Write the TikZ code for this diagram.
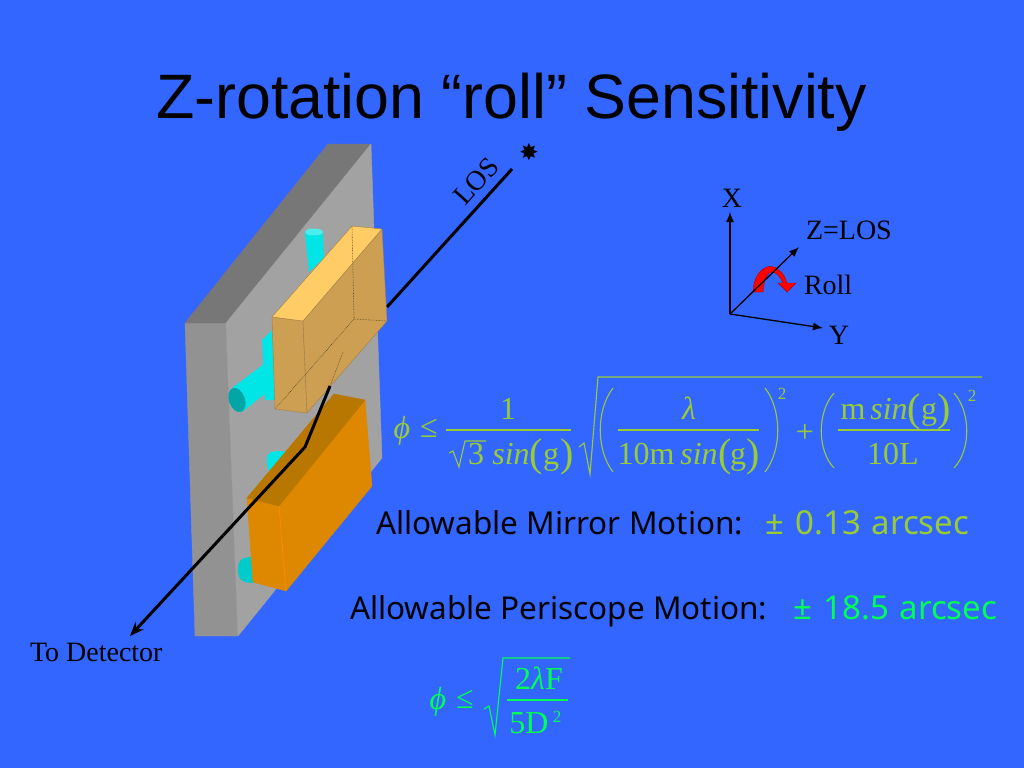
\documentclass[tikz,border=0pt]{standalone}
\usepackage{fontspec}
\setmainfont{Liberation Serif}
\newfontfamily\arialf{Liberation Sans}
\newfontfamily\bodyf{Noto Sans}
\newfontfamily\starf{DejaVu Sans}
\usetikzlibrary{arrows.meta}
\definecolor{bgblue}{HTML}{3366FF}
\definecolor{eqgreen}{HTML}{99CC33}
\definecolor{brightgreen}{HTML}{00FF55}
\definecolor{plateF}{HTML}{929292}
\definecolor{plateT}{HTML}{777777}
\definecolor{plateR}{HTML}{A2A2A2}
\definecolor{lightT}{HTML}{FFCC66}
\definecolor{lightF}{HTML}{CC9F52}
\definecolor{orangeT}{HTML}{B87700}
\definecolor{orangeF}{HTML}{DD8800}
\definecolor{cyanA}{HTML}{00E5E5}
\definecolor{cyanB}{HTML}{00A5A5}
\newcommand{\fs}[1]{\fontsize{#1}{#1}\selectfont}
\tikzset{
 lbl/.style={inner sep=0pt,outer sep=0pt,anchor=base},
 eqa/.style={lbl,text=eqgreen,font=\fs{32}},
 eqb/.style={lbl,text=brightgreen,font=\fs{32}},
 eqp/.style={lbl,text=eqgreen,font=\fs{40}},
 eqline/.style={draw=eqgreen,line width=1.1pt},
 eqlineb/.style={draw=brightgreen,line width=1.1pt},
 axis/.style={draw=black,line width=1.3pt,-{Latex[length=10pt,width=8pt]}},
 tag/.style={lbl,font=\fs{28},text=black},
 body/.style={lbl,anchor=base west,font=\bodyf\fs{31.5}},
 bodyg/.style={lbl,anchor=base west,font=\bodyf\fs{33}},
 face/.style={line width=.4pt,line join=round},
 hidden/.style={draw=black!60!lightF,line width=.6pt,densely dotted},
}
\begin{document}
\begin{tikzpicture}[x=1pt,y=-1pt]
\useasboundingbox (0,0) rectangle (1024,768);
\fill[bgblue] (0,0) rectangle (1024,768);
\node[lbl,font=\arialf\fs{62.7}] (title) at (511.5,118) {Z-rotation “roll” Sensitivity};
% plate
\draw[face,draw=plateF,fill=plateF] (185,323)--(226,323)--(238,636)--(195,636)--cycle;
\draw[face,draw=plateT,fill=plateT] (185,323)--(328,144)--(371,144)--(226,323)--cycle;
\draw[face,draw=plateR,fill=plateR] (226,323)--(371,144)--(382,458)--(238,636)--cycle;
% cylinders
\fill[cyanA] (305,233) -- (309,272) -- (324,258) -- (323,233) -- cycle;
\fill[cyanA!70!white] (314,232) ellipse (9 and 3.5);
\fill[cyanA] (262,340) -- (272,330) -- (276,400) -- (265,400) -- cycle;
\fill[cyanA] (232,388) -- (276,355) -- (276,385) -- (242,412) -- cycle;
\fill[cyanB,rotate around={20:(237,400)}] (237,400) ellipse (8 and 12.5);
\fill[cyanA] (267,458) .. controls (267,452) and (272,451) .. (285,451) -- (285,465) -- (272,473) .. controls (268,472) and (267,468) .. (267,458) -- cycle;
\fill[cyanB!40!cyanA] (238,570) .. controls (238,560) and (242,557) .. (252,557) -- (254,583) .. controls (243,583) and (238,580) .. (238,570) -- cycle;
% LOS line, far segment
\coordinate (losfar) at (512,169);
\coordinate (losin) at (387,307);
\draw[line width=3pt] (losfar) -- (losin);
% top box
\draw[face,draw=lightF!80!black,fill=lightF] (272,317)--(303,321)--(307,413)--(275,409)--cycle;
\draw[face,draw=lightF!80!black,fill=lightF] (303,321)--(382,229)--(387,321)--(307,413)--cycle;
\draw[face,draw=lightF!80!black,fill=lightT] (272,317)--(303,321)--(382,229)--(352,226)--cycle;
\draw[hidden] (352,226)--(354,319)--(387,321);
\draw[hidden] (354,319)--(275,409);
\draw[hidden] (343,352)--(330,386);
% bottom box
\fill[orangeF!85!black] (247,498) -- (334,394) -- (340,397) -- (255,502) -- cycle;
\draw[face,draw=orangeF,fill=orangeF] (247,498)--(279,506)--(286,591)--(253,582)--cycle;
\draw[face,draw=orangeF,fill=orangeF] (279,506)--(365,400)--(372,486)--(286,591)--cycle;
\draw[draw=orange!90!yellow,line width=.7pt] (279,506)--(286,591);
\draw[face,draw=orangeT,fill=orangeT] (247,498)--(279,506)--(365,400)--(334,394)--cycle;
% LOS near segment
\coordinate (losout) at (330,386);
\coordinate (losbend) at (305,447);
\coordinate (losend) at (130,636);
\draw[line width=3pt,line join=miter,-{Stealth[length=14pt,width=11pt]}] (losout) -- (losbend) -- (losend);
\node[tag,rotate=48,anchor=center] (los) at (476,181) {LOS};
\node[lbl,font=\starf\fs{23}] (star) at (529,160) {✸};
\node[tag,anchor=base west] (det) at (30,661) {To Detector};
% axes
\coordinate (o) at (730,314);
\coordinate (xt) at (730,212);
\coordinate (zt) at (799,247);
\coordinate (yt) at (823,328);
\fill[red,draw=red!70!black,line width=.4pt] (753,292) .. controls (754,270) and (768,263) .. (776,268) .. controls (782,272) and (785,276) .. (787,283) -- (796,283) -- (787,292) -- (778,283) -- (783,283) .. controls (780,276) and (776,272) .. (772,272) .. controls (768,272) and (764,278) .. (763,292) -- cycle;
\draw[axis] (o)--(xt);
\draw[axis] (o)--(zt);
\draw[axis] (o)--(yt);
\node[tag,anchor=base] (xl) at (732,207) {X};
\node[tag,anchor=base west] (zl) at (806,239) {Z=LOS};
\node[tag,anchor=base west] (rl) at (804,294) {Roll};
\node[tag,anchor=base] (yl) at (839,344) {Y};
% equation 1
\node[eqa] (e1) at (402,438) {\textit{ϕ}};
\node[eqa] (e2) at (429,437) {≤};
\node[eqa] (e3) at (508,419) {1};
\draw[eqline] (446,430)--(571,430);
\draw[eqline] (449,453)--(453,451)--(459,467)--(465,441)--(486,441);
\node[eqa] (e4) at (476,464) {3};
\node[eqa] (e5) at (511,464) {\textit{sin}};
\node[eqp] (e6) at (536,466) {(};
\node[eqa] (e7) at (551,464) {g};
\node[eqp] (e8) at (567,466) {)};
\draw[eqline] (579,447)--(584,443)--(590,474)--(598,377)--(982,377);
\draw[eqline] (613,388) .. controls (596,410) and (596,450) .. (613,472);
\node[eqa] (e9) at (689,419) {\textit{λ}};
\draw[eqline] (618,430)--(759,430);
\node[eqa] (e10) at (646,464) {10m};
\node[eqa] (e11) at (699,464) {\textit{sin}};
\node[eqp] (e12) at (725,466) {(};
\node[eqa] (e13) at (738,464) {g};
\node[eqp] (e14) at (753,466) {)};
\draw[eqline] (765,388) .. controls (782,410) and (782,450) .. (765,472);
\node[eqa,font=\fs{17}] (e15) at (782,399) {2};
\node[eqa] (e16) at (805,442) {+};
\draw[eqline] (834,393) .. controls (817,412) and (817,450) .. (834,468);
\node[eqa] (e17) at (853,419) {m};
\node[eqa] (e18) at (889,419) {\textit{sin}};
\node[eqp] (e19) at (914,421) {(};
\node[eqa] (e20) at (929,419) {g};
\node[eqp] (e21) at (944,421) {)};
\draw[eqline] (838,430)--(950,430);
\node[eqa] (e22) at (893,464) {10L};
\draw[eqline] (954,393) .. controls (971,412) and (971,450) .. (954,468);
\node[eqa,font=\fs{17}] (e23) at (972,401) {2};
% text lines
\node[body] (m1) at (376,534) {Allowable Mirror Motion:};
\node[bodyg,text=eqgreen] (m2) at (765,534) {±\hspace{3pt} 0.13\hspace{2pt} arcsec};
\node[body] (p1) at (350,619) {Allowable Periscope Motion:};
\node[bodyg,text=brightgreen] (p2) at (793,619) {±\hspace{3pt} 18.5\hspace{2pt} arcsec};
% equation 2
\node[eqb] (f1) at (438,709) {\textit{ϕ}};
\node[eqb] (f2) at (465,708) {≤};
\node[eqb] (f3) at (539,689) {2\textit{λ}F};
\draw[eqlineb] (507,700)--(568,700);
\draw[eqlineb] (484,709)--(489,706)--(495,735)--(503,658)--(570,658);
\node[eqb] (f4) at (529,733) {5D};
\node[eqb,font=\fs{17}] (f5) at (557,722) {2};
\end{tikzpicture}
\end{document}
